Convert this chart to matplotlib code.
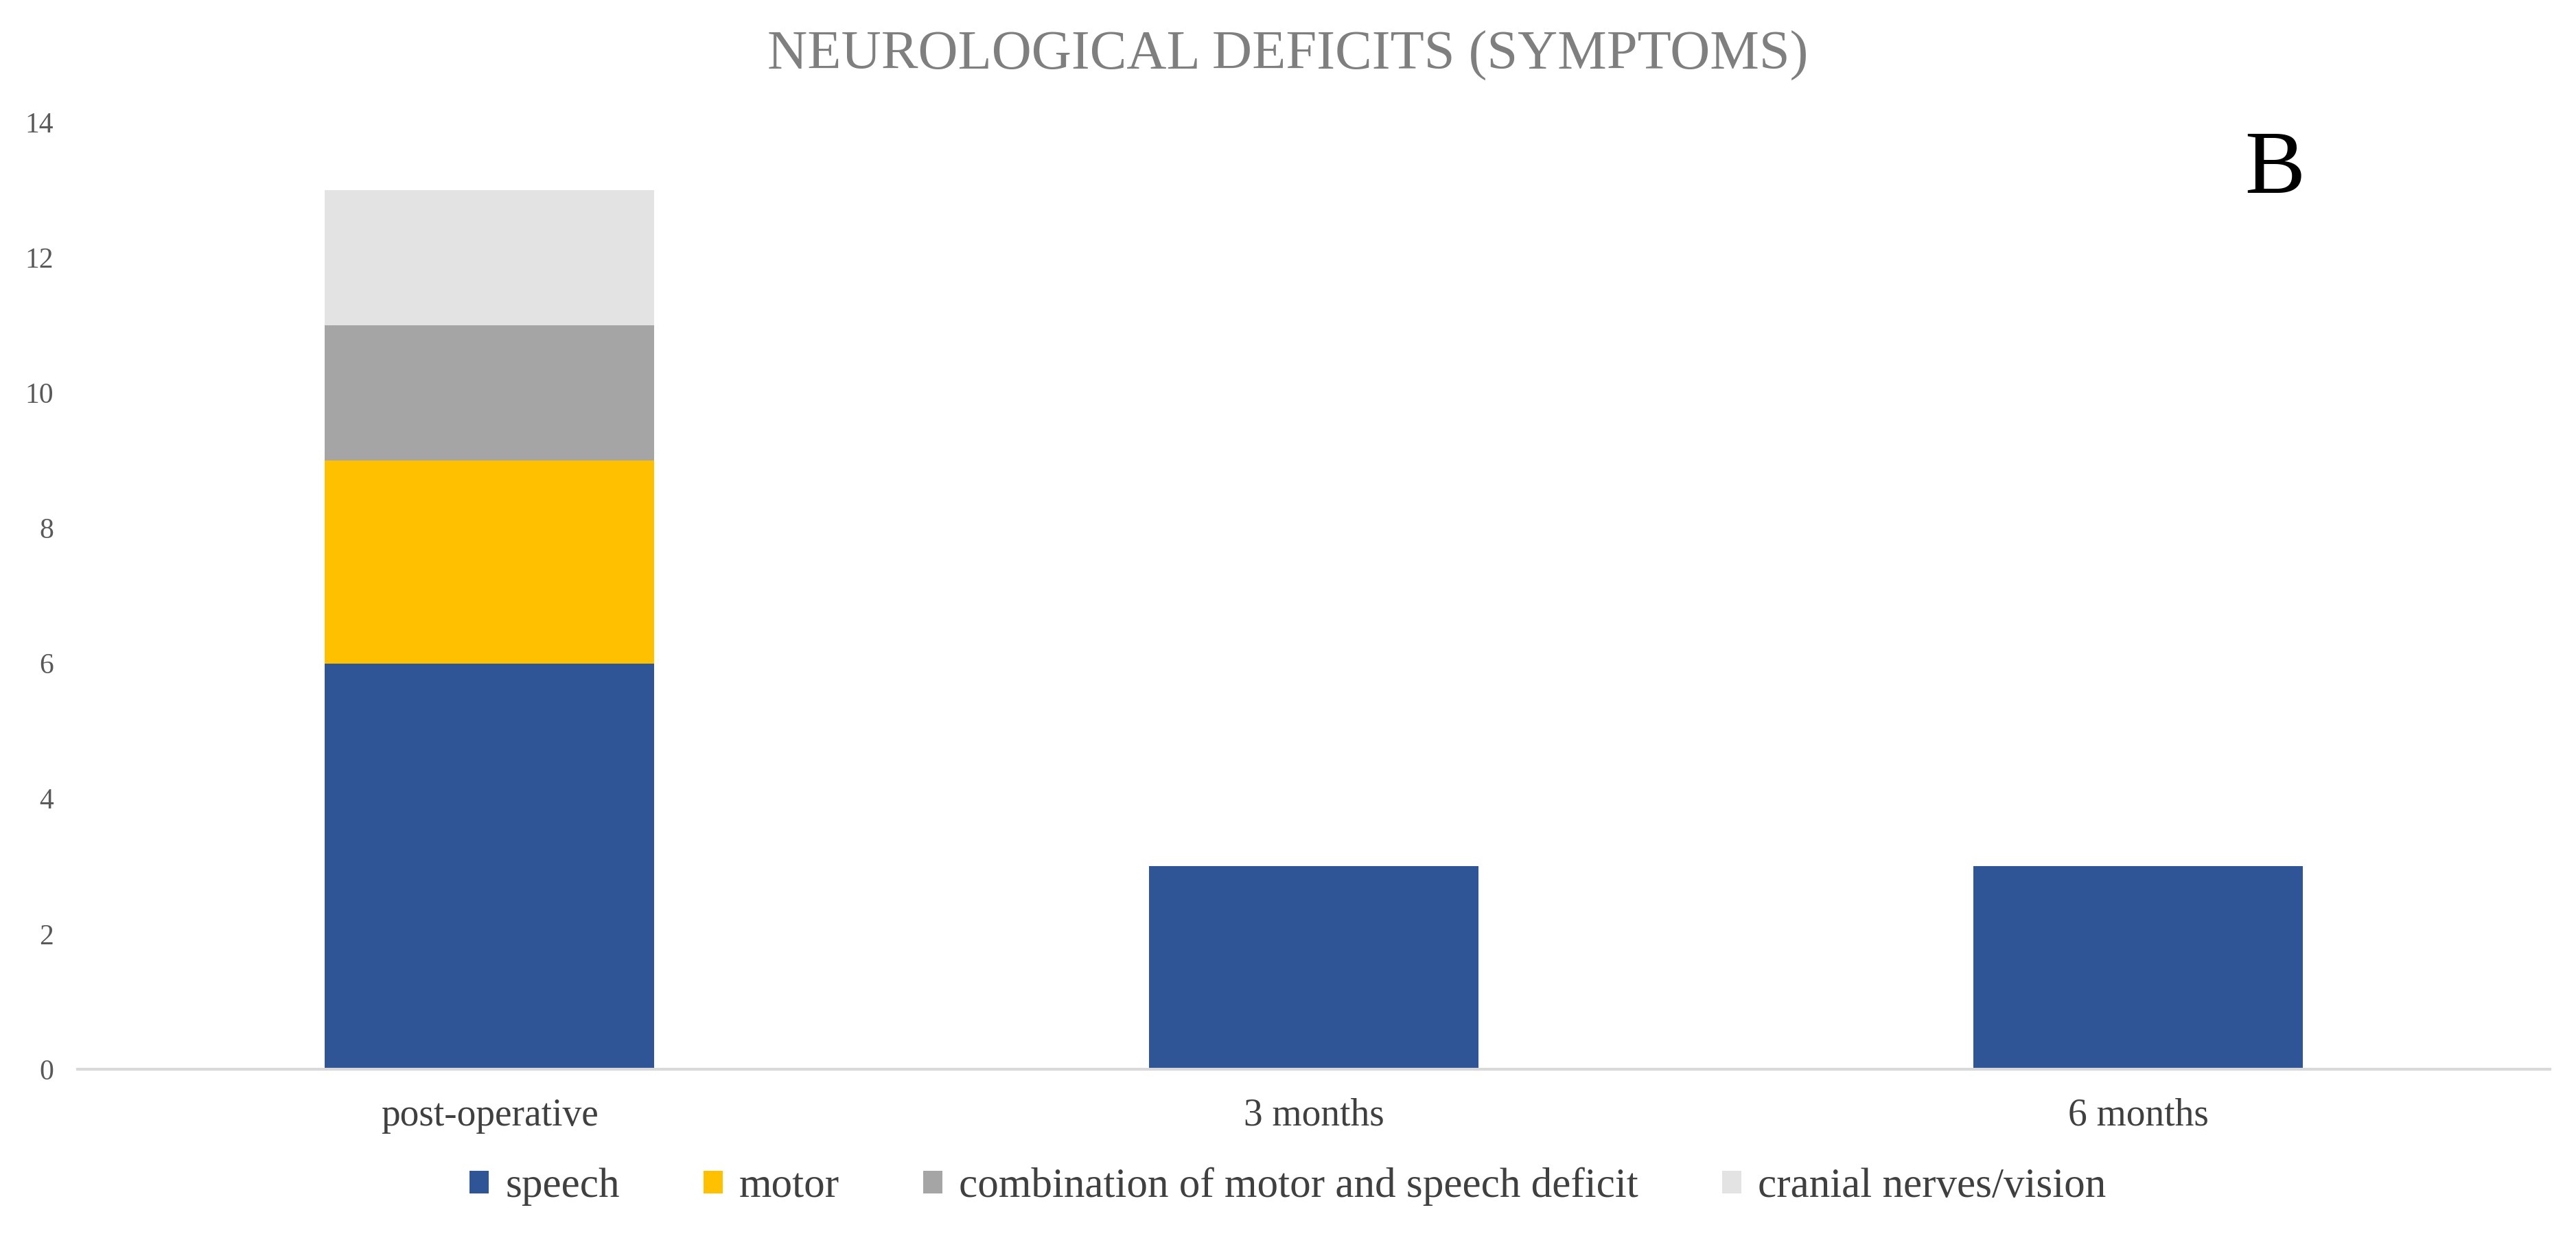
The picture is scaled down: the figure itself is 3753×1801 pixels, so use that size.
import numpy as np
import matplotlib.pyplot as plt

plt.rcParams['font.family'] = ['Liberation Serif', 'DejaVu Serif']

categories = ["post-operative", "3 months", "6 months"]
speech = [6, 3, 3]
motor = [3, 0, 0]
combination = [2, 0, 0]
cranial = [2, 0, 0]
series = [
    ("speech", speech, "#2F5597"),
    ("motor", motor, "#FFC000"),
    ("combination of motor and speech deficit", combination, "#A5A5A5"),
    ("cranial nerves/vision", cranial, "#E4E3E3"),
]

fig = plt.figure(figsize=(37.53, 18.01), dpi=100)
ax = fig.add_axes([0.030, 0.135, 0.960, 0.766])

x = np.arange(len(categories))
bottom = np.zeros(len(categories))
for name, vals, col in series:
    ax.bar(x, vals, width=0.4, bottom=bottom, color=col, label=name)
    bottom += np.array(vals)

ax.set_xlim(-0.5, 2.5)
ax.set_ylim(0, 14)
ax.set_yticks(range(0, 15, 2))
ax.set_xticks(x)
ax.set_xticklabels(categories)
ax.tick_params(axis='y', labelsize=30, length=0, colors='#595959', pad=25)
ax.tick_params(axis='x', labelsize=40, length=0, colors='#404040', pad=30)
for s in ['left', 'top', 'right']:
    ax.spines[s].set_visible(False)
ax.spines['bottom'].set_color('#D9D9D9')
ax.spines['bottom'].set_linewidth(3)

fig.text(0.5, 0.955, "NEUROLOGICAL DEFICITS (SYMPTOMS)", ha='center', va='center',
         fontsize=58, color='#7F7F7F')
fig.text(0.883, 0.895, "B", ha='center', va='top', fontsize=95, color='black')

leg = fig.legend(loc='center', bbox_to_anchor=(0.5, 0.04), ncol=4, frameon=False,
                 fontsize=44, handlelength=0.45, handleheight=0.45, columnspacing=2.0,
                 handletextpad=0.4)
for t in leg.get_texts():
    t.set_color('#404040')

fig.savefig("out.png", dpi=100)
